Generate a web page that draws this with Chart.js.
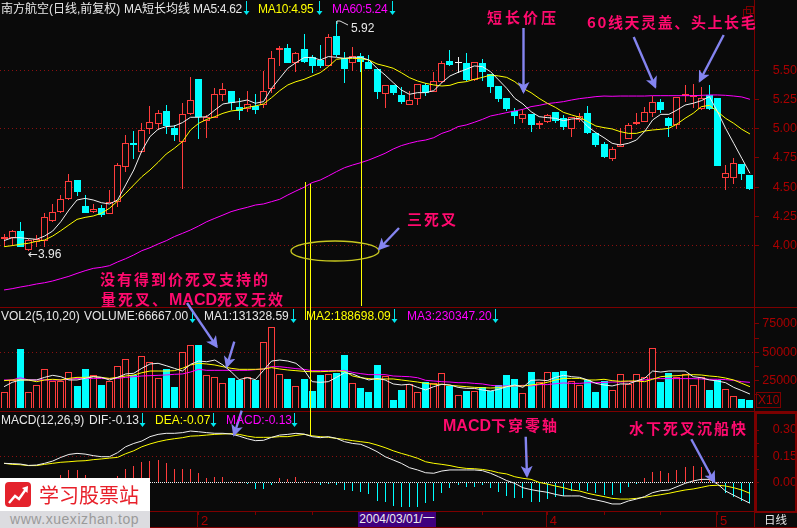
<!DOCTYPE html>
<html>
<head>
<meta charset="utf-8">
<script src="https://cdn.jsdelivr.net/npm/chart.js@4/dist/chart.umd.min.js"></script>
<style>
html, body { margin: 0; padding: 0; background: #0a0a0a; overflow: hidden; }
#stage { position: relative; width: 797px; height: 528px; background: #0a0a0a; font: 12px 'Liberation Sans', 'Noto Sans CJK SC', sans-serif; }
canvas { position: absolute; left: 0; }
svg { position: absolute; left: 0; top: 0; }
.t { position: absolute; white-space: nowrap; line-height: 16px; height: 16px; }
.w { color: #e8e8e8; } .y { color: #ffff00; } .m { color: #ff00ff; }
.tight { letter-spacing: -0.3px; }
.note { color: #ff0a6e; font: bold 15px 'Noto Sans CJK SC', sans-serif; line-height: 18px; height: 18px; letter-spacing: 2px; }
.note b { font-family: 'Liberation Sans', sans-serif; letter-spacing: 0; font-size: 16px; }
.axis { color: #a80000; }
#logo { position: absolute; left: 0; top: 478px; width: 150px; height: 50px; background: #fff; }
#logo .bar { position: absolute; left: 0; top: 33px; width: 150px; height: 17px; background: #dcdce0; color: #9a9a9a; font: 14px/17px 'Liberation Sans', sans-serif; letter-spacing: 0.55px; text-indent: 10px; }
#logo .name { position: absolute; left: 39px; top: 5px; color: #e8202a; font: 20px/24px 'Noto Sans CJK SC', sans-serif; }
#date { position: absolute; left: 358px; top: 512px; width: 78px; height: 15px; background: #3f007f; color: #eee; font: 12px/15px 'Liberation Sans', 'Noto Sans CJK SC', sans-serif; text-align: center; }
</style>
</head>
<body>
<div id="stage">
  <canvas id="priceChart" width="797" height="307" style="top:0"></canvas>
  <canvas id="volChart" width="797" height="100" style="top:308px"></canvas>
  <canvas id="macdChart" width="797" height="116" style="top:412px"></canvas>

  <svg width="797" height="528" viewBox="0 0 797 528">
    <defs>
      <marker id="head" markerWidth="5" markerHeight="5" refX="4.2" refY="2.5" orient="auto" markerUnits="strokeWidth">
        <path d="M0,0 L5,2.5 L0,5 L1.3,2.5 Z" fill="#8484f0"/>
      </marker>
      <path id="down" d="M-0.5,0 H0.5 V10 H3 L0,14 L-3,10 H-0.5 Z" fill="#00e8f0"/>
    </defs>
    <!-- panel frame -->
    <g stroke="#7c0000" stroke-width="1" fill="none" shape-rendering="crispEdges">
      <line x1="754.5" y1="0" x2="754.5" y2="528"/>
      <line x1="0" y1="307.5" x2="797" y2="307.5"/>
      <line x1="0" y1="411.5" x2="797" y2="411.5"/>
      <line x1="0" y1="511.5" x2="797" y2="511.5"/>
      <line x1="0" y1="527.5" x2="797" y2="527.5"/>
      <rect x="755.5" y="412.5" width="40" height="99" stroke-width="2"/>
      <rect x="756.5" y="392.5" width="24" height="15"/>
      <line x1="197.5" y1="512" x2="197.5" y2="528"/>
      <line x1="546.5" y1="512" x2="546.5" y2="528"/>
      <line x1="716.5" y1="512" x2="716.5" y2="528"/>
      <rect x="746.5" y="6.5" width="7" height="7"/>
      <rect x="743.5" y="9.5" width="7" height="7"/>
    </g>
    <!-- marker lines -->
    <g stroke="#ffff00" stroke-width="1" shape-rendering="crispEdges">
      <line x1="305.5" y1="182" x2="305.5" y2="320"/>
      <line x1="310.5" y1="184" x2="310.5" y2="435"/>
      <line x1="361.5" y1="60" x2="361.5" y2="306"/>
    </g>
    <ellipse cx="335" cy="251" rx="44" ry="10" fill="none" stroke="#c8c820" stroke-width="1.3"/>
    <polyline points="337,24 337,21 340,21 348,25" fill="none" stroke="#ddd" stroke-width="1"/>
    <!-- header arrows -->
    <use href="#down" x="246.5" y="1"/><use href="#down" x="319.5" y="1"/><use href="#down" x="392.5" y="1"/>
    <use href="#down" x="192.5" y="309"/><use href="#down" x="293.5" y="309"/><use href="#down" x="394.5" y="309"/><use href="#down" x="495.5" y="309"/>
    <use href="#down" x="142.5" y="413"/><use href="#down" x="213.5" y="413"/><use href="#down" x="294.5" y="413"/>
    <!-- note arrows -->
    <g stroke="#8484f0" stroke-width="2.4" fill="none" marker-end="url(#head)">
      <line x1="523.5" y1="28" x2="523.5" y2="92"/>
      <line x1="633.7" y1="37" x2="655.3" y2="87"/>
      <line x1="723.7" y1="35" x2="699.7" y2="81"/>
      <line x1="187" y1="303" x2="216.7" y2="346.7"/>
      <line x1="234.3" y1="341.7" x2="226.7" y2="366.7"/>
      <line x1="241.7" y1="410.7" x2="234" y2="435"/>
      <line x1="525.7" y1="436.7" x2="527" y2="476"/>
      <line x1="691.3" y1="439.3" x2="714.3" y2="481.7"/>
      <line x1="399" y1="228" x2="379" y2="249"/>
    </g>
  </svg>

  <!-- price header -->
  <span class="t w" style="left:1px;top:1px">南方航空(日线,前复权)</span>
  <span class="t w" style="left:124px;top:1px">MA短长均线</span>
  <span class="t w tight" style="left:193px;top:1px">MA5:4.62</span>
  <span class="t y tight" style="left:258px;top:1px">MA10:4.95</span>
  <span class="t m tight" style="left:332px;top:1px">MA60:5.24</span>
  <span class="t w" style="left:28px;top:246px"><span style="font-family:'DejaVu Sans'">←</span>3.96</span>
  <span class="t w" style="left:351px;top:20px">5.92</span>

  <!-- volume header -->
  <span class="t w" style="left:1px;top:308px">VOL2(5,10,20)</span>
  <span class="t w" style="left:84px;top:308px">VOLUME:66667.00</span>
  <span class="t w" style="left:204px;top:308px">MA1:131328.59</span>
  <span class="t y" style="left:306px;top:308px">MA2:188698.09</span>
  <span class="t m" style="left:407px;top:308px">MA3:230347.20</span>
  <span class="t axis" style="left:758px;top:392px">X10</span>

  <!-- macd header -->
  <span class="t w" style="left:1px;top:412px">MACD(12,26,9)</span>
  <span class="t w" style="left:89px;top:412px">DIF:-0.13</span>
  <span class="t y" style="left:155px;top:412px">DEA:-0.07</span>
  <span class="t m" style="left:226px;top:412px">MACD:-0.13</span>

  <!-- notes -->
  <span class="t note" style="left:100px;top:270px">没有得到价死叉支持的</span>
  <span class="t note" style="left:101px;top:290px">量死叉、<b>MACD</b>死叉无效</span>
  <span class="t note" style="left:407px;top:210px">三死叉</span>
  <span class="t note" style="left:487px;top:8px;letter-spacing:3px">短长价压</span>
  <span class="t note" style="left:587px;top:13px;letter-spacing:1.6px">60线天灵盖、头上长毛</span>
  <span class="t note" style="left:443px;top:416px"><b>MACD</b>下穿零轴</span>
  <span class="t note" style="left:629px;top:419px">水下死叉沉船快</span>

  <div id="date">2004/03/01/一</div>
  <span class="t w" style="left:764px;top:512px;font-size:11.5px">日线</span>

  <div id="logo">
    <svg width="28" height="27" viewBox="0 0 28 27" style="left:5px;top:4px">
      <rect x="0" y="0" width="26" height="25" rx="4" fill="#e4222c"/>
      <polyline points="4,21 10,14 14,17 21,7" fill="none" stroke="#fff" stroke-width="2.4"/>
      <path d="M17,6 L23,4 L22.5,11 Z" fill="#fff"/>
    </svg>
    <div class="name">学习股票站</div>
    <div class="bar">www.xuexizhan.top</div>
  </div>
</div>

<script>
// --- Daily bars ---
const opens = [
  4.053,4.067,4.124,3.964,4.033,4.041,4.213,4.287,4.396,4.561,
  4.338,4.287,4.318,4.273,4.376,4.670,4.875,4.804,5.001,5.044,
  5.153,5.004,4.890,5.130,5.427,5.064,5.095,5.293,5.324,5.184,
  5.173,5.196,5.201,5.344,5.678,5.693,5.567,5.681,5.615,5.587,
  5.541,5.795,5.604,5.567,5.624,5.573,5.513,5.298,5.375,5.290,
  5.207,5.258,5.375,5.315,5.404,5.581,5.567,5.564,5.418,5.564,
  5.467,5.367,5.261,5.155,5.087,5.124,5.036,5.055,5.141,5.093,
  5.001,5.075,5.133,4.961,4.870,4.744,4.841,4.910,5.041,5.061,
  5.138,5.230,5.093,5.033,5.284,5.275,5.173,5.290,5.261,4.581,
  4.581,4.698,4.604
];
const highs = [
  4.099,4.133,4.201,4.059,4.090,4.276,4.355,4.433,4.613,4.561,
  4.433,4.355,4.347,4.476,4.704,4.947,4.981,5.047,5.195,5.161,
  5.204,5.033,5.224,5.441,5.427,5.118,5.347,5.390,5.324,5.261,
  5.324,5.298,5.495,5.670,5.710,5.727,5.661,5.813,5.633,5.715,
  5.813,5.920,5.661,5.704,5.653,5.633,5.513,5.373,5.375,5.355,
  5.327,5.381,5.390,5.490,5.581,5.675,5.618,5.653,5.570,5.595,
  5.467,5.367,5.261,5.175,5.161,5.124,5.070,5.124,5.147,5.118,
  5.104,5.133,5.195,4.967,4.890,4.847,5.004,5.047,5.133,5.184,
  5.281,5.255,5.104,5.275,5.375,5.384,5.355,5.375,5.261,4.690,
  4.747,4.698,4.604
];
const lows = [
  3.996,3.996,3.990,3.956,3.990,3.990,4.204,4.276,4.390,4.424,
  4.278,4.276,4.244,4.273,4.333,4.630,4.741,4.795,4.955,4.990,
  4.955,4.895,4.487,5.118,4.915,4.921,5.090,5.241,5.161,5.076,
  5.147,5.127,5.181,5.304,5.538,5.567,5.490,5.567,5.481,5.518,
  5.538,5.613,5.395,5.498,5.490,5.513,5.255,5.181,5.290,5.210,
  5.204,5.204,5.281,5.315,5.390,5.538,5.475,5.410,5.413,5.410,
  5.304,5.233,5.155,5.041,5.047,4.975,5.001,5.047,5.053,4.990,
  4.933,5.061,4.953,4.844,4.753,4.727,4.841,4.910,5.033,5.055,
  5.098,5.133,4.933,4.998,5.227,5.175,5.161,5.161,4.681,4.476,
  4.527,4.561,4.476
];
const closes = [
  4.076,4.124,3.990,4.047,4.053,4.241,4.284,4.396,4.550,4.458,
  4.278,4.310,4.264,4.376,4.687,4.875,4.861,4.987,5.055,5.133,
  5.024,4.950,5.124,5.244,5.101,5.098,5.295,5.338,5.218,5.153,
  5.210,5.164,5.321,5.604,5.693,5.567,5.647,5.575,5.538,5.538,
  5.784,5.633,5.513,5.627,5.573,5.513,5.318,5.373,5.307,5.233,
  5.244,5.381,5.304,5.407,5.561,5.547,5.567,5.418,5.570,5.490,
  5.358,5.255,5.170,5.110,5.124,5.033,5.050,5.118,5.070,5.015,
  5.098,5.113,4.967,4.861,4.758,4.827,4.870,5.030,5.061,5.141,
  5.227,5.161,5.027,5.270,5.298,5.290,5.267,5.167,4.681,4.618,
  4.710,4.613,4.484
];
const ma5 = [
  4.042,4.067,4.067,4.059,4.053,4.081,4.124,4.204,4.304,4.390,
  4.404,4.390,4.367,4.356,4.390,4.519,4.647,4.813,4.933,4.996,
  5.019,5.024,5.053,5.099,5.099,5.104,5.161,5.213,5.224,5.233,
  5.247,5.219,5.233,5.347,5.433,5.519,5.567,5.610,5.613,5.590,
  5.619,5.613,5.604,5.613,5.613,5.590,5.519,5.461,5.396,5.333,
  5.296,5.310,5.310,5.327,5.396,5.453,5.484,5.510,5.539,5.533,
  5.490,5.419,5.347,5.261,5.213,5.147,5.104,5.096,5.090,5.070,
  5.084,5.090,5.019,4.967,4.924,4.876,4.861,4.876,4.904,4.976,
  5.076,5.124,5.124,5.161,5.204,5.219,5.241,5.276,5.147,5.004,
  4.876,4.747,4.619
];
const ma10 = [
  3.990,3.999,4.010,4.019,4.036,4.047,4.081,4.127,4.176,4.224,
  4.241,4.253,4.276,4.319,4.381,4.447,4.519,4.590,4.647,4.713,
  4.784,4.833,4.890,4.990,5.047,5.081,5.104,5.133,5.153,5.161,
  5.184,5.196,5.213,5.267,5.327,5.376,5.404,5.424,5.453,5.481,
  5.533,5.596,5.604,5.604,5.601,5.590,5.556,5.539,5.519,5.481,
  5.439,5.410,5.390,5.376,5.367,5.373,5.396,5.404,5.424,5.441,
  5.461,5.453,5.441,5.404,5.347,5.310,5.261,5.219,5.184,5.141,
  5.119,5.099,5.061,5.024,5.010,4.999,4.976,4.961,4.961,4.981,
  4.990,4.996,5.004,5.041,5.090,5.133,5.190,5.201,5.147,5.090,
  5.047,4.996,4.956
];
const ma60 = [
  3.619,3.630,3.644,3.656,3.670,3.681,3.696,3.716,3.736,3.761,
  3.784,3.804,3.813,3.827,3.859,3.887,3.919,3.956,3.981,4.013,
  4.041,4.076,4.104,4.133,4.167,4.204,4.233,4.261,4.290,4.310,
  4.327,4.347,4.356,4.376,4.396,4.433,4.467,4.499,4.539,4.561,
  4.596,4.633,4.667,4.690,4.710,4.733,4.761,4.790,4.827,4.856,
  4.876,4.893,4.904,4.924,4.961,4.984,5.019,5.033,5.056,5.081,
  5.110,5.124,5.139,5.153,5.167,5.190,5.201,5.216,5.224,5.233,
  5.247,5.259,5.267,5.276,5.281,5.279,5.281,5.281,5.281,5.281,
  5.284,5.284,5.284,5.284,5.284,5.284,5.287,5.290,5.290,5.287,
  5.281,5.273,5.253
];

// --- Volume panel (axis is shown X10) ---
const volumes = [
  14700,25300,52900,14700,20900,35000,24700,24700,32600,20300,
  35300,29700,21200,24700,37900,43800,30000,46700,41700,27000,
  35300,19700,50300,56200,56400,29700,27900,23200,27300,25900,
  27900,25900,59100,72000,30900,26500,20300,26500,16200,30000,
  30900,32000,47600,22600,18200,15300,38800,29100,7900,16800,
  22100,15000,23800,22600,31500,20300,12300,16200,15900,19100,
  16200,21200,30000,26500,13800,32600,23500,32600,32600,33500,
  24700,20900,25600,15000,24700,16500,30600,22100,30600,27900,
  53500,23800,31800,28500,30600,20900,27900,16800,25600,17300,
  11200,8800,7900
];
const volMa1 = [
  19700,23500,25600,25600,25600,27900,29700,28500,25600,25600,
  27000,28500,27900,25600,27900,30900,31500,35900,39700,40300,
  38200,35900,33500,39400,42300,41700,43200,38800,32900,25900,
  27600,25900,34000,42300,43200,42300,40300,34400,24100,23500,
  24100,27900,32000,30900,27900,25600,27000,25600,22100,21200,
  21800,19100,16800,19700,21800,21200,19100,18200,18200,16800,
  15900,17300,19700,21200,19100,25300,25600,25000,27900,29700,
  28500,27900,25600,22600,21200,20300,22100,22100,24700,27000,
  33500,32600,33500,33500,33500,28500,27600,25600,24700,23200,
  19100,16200,13200
];
const volMa2 = [
  25000,25600,25600,25600,24100,25600,26200,25600,27000,27900,
  27900,28500,27900,27000,27900,29100,30000,32000,33500,33500,
  33500,33800,35900,38800,40300,39700,38800,37300,35900,35000,
  35000,35000,35300,36500,35300,34400,33800,33200,32900,32900,
  33200,33500,33200,29100,27600,26800,26200,26500,26500,25600,
  24700,23800,22600,21800,21800,20900,20300,19700,19100,18800,
  18500,18800,19700,20600,20300,21200,22100,23500,25600,27000,
  27000,27000,25600,25600,26200,25000,24400,24700,24700,24100,
  26200,28500,29100,29400,30000,30300,30000,29100,28500,27300,
  25600,22600,19700
];
const volMa3 = [
  25600,25600,27600,25600,25600,25600,25600,25600,26200,27000,
  27000,27000,27000,26800,27000,27900,28500,29100,29400,29700,
  30000,30600,30900,32600,35000,34100,34100,34100,34100,34100,
  34100,34700,35300,37300,37300,36500,35600,35000,33800,33800,
  33800,33800,34100,32300,31200,30300,30300,30300,29100,28800,
  28500,27600,25300,24700,24100,23800,23200,23200,22600,22100,
  20900,20300,20300,20300,20900,20300,21500,21500,22300,23000,
  22600,22600,23200,23200,23500,23800,23800,24100,24400,25600,
  26800,26800,26800,26800,26800,26800,26500,26200,26200,25900,
  25300,24100,23500
];

// --- MACD panel ---
const dif = [
  .109,.107,.105,.097,.099,.109,.122,.143,.160,.166,
  .162,.153,.147,.147,.170,.204,.223,.237,.262,.275,
  .281,.281,.285,.294,.290,.285,.281,.281,.277,.265,
  .250,.239,.241,.258,.271,.275,.281,.277,.262,.256,
  .262,.252,.233,.223,.218,.199,.176,.147,.128,.109,
  .084,.071,.055,.052,.065,.071,.071,.071,.071,.067,
  .052,.032,.010,-.006,-.031,-.042,-.050,-.057,-.069,-.078,
  -.078,-.078,-.092,-.101,-.111,-.124,-.124,-.107,-.096,-.082,
  -.059,-.048,-.044,-.025,-.006,.008,.017,.017,-.010,-.050,
  -.074,-.097,-.120
];
const dea = [
  .109,.103,.101,.096,.096,.103,.109,.115,.118,.122,
  .124,.130,.134,.139,.143,.164,.181,.204,.220,.233,
  .243,.250,.256,.265,.267,.271,.275,.277,.279,.275,
  .265,.258,.258,.258,.262,.262,.269,.275,.267,.262,
  .258,.252,.246,.239,.233,.227,.214,.199,.181,.166,
  .153,.138,.118,.109,.103,.096,.086,.080,.078,.074,
  .067,.055,.048,.032,.023,.017,0,-.010,-.021,-.031,
  -.044,-.050,-.063,-.073,-.082,-.092,-.096,-.096,-.092,-.086,
  -.078,-.071,-.063,-.053,-.044,-.038,-.029,-.019,-.017,-.021,
  -.031,-.044,-.063
];
const macdBars = [
  0,0,0,0,0,0,0,.042,.071,.071,
  .042,.023,.013,.010,.036,.074,.094,.115,.122,.128,
  .109,.076,.076,.076,.052,.027,.032,.029,.008,.004,
  -.011,-.040,-.040,-.015,.023,.019,.029,.008,.002,-.017,
  -.004,-.013,-.044,-.048,-.053,-.069,-.107,-.115,-.136,-.143,
  -.143,-.139,-.120,-.105,-.059,-.034,-.017,-.025,-.025,-.015,
  -.034,-.053,-.076,-.092,-.092,-.111,-.111,-.094,-.082,-.076,
  -.052,-.044,-.050,-.063,-.074,-.071,-.061,-.025,-.002,.025,
  .059,.067,.053,.071,.090,.094,.090,.071,0,-.059,
  -.082,-.107,-.117
];

// --- Axis labels ---
const priceTicks = [4.00, 4.25, 4.50, 4.75, 5.00, 5.25, 5.50];
const priceGrid = [4.00, 4.50, 5.00, 5.50];
const volTicks = [12500, 25000, 37500, 50000, 62500, 75000];
const volLabels = [25000, 50000, 75000];
const macdTicks = [0, 0.075, 0.15, 0.225, 0.30];
const macdLabels = [0, 0.15, 0.30];
const monthLabels = { 24: '2', 67: '4', 88: '5' };
const dayTicks = [6, 13, 24, 31, 38, 45, 52, 59, 67, 74, 81, 88];

const colors = {
  bg: '#0a0a0a',
  red: '#ff3c3c',
  cyan: '#00ffff',
  white: '#f0f0f0',
  yellow: '#ffff00',
  magenta: '#ff00ff',
  frame: '#7c0000',
  label: '#a80000',
  grid: '#8a1010'
};
const labels = opens.map((_, i) => i);
const isUp = i => closes[i] >= opens[i];

// Bars land on whole pixels, the original has no anti-aliasing
const snapBars = {
  id: 'snapBars',
  beforeDatasetsDraw(chart) {
    chart.getSortedVisibleDatasetMetas().forEach(meta => {
      if (meta.type !== 'bar') return;
      meta.data.forEach(el => {
        el.x = Math.floor(el.x) + 0.5;
        el.y = Math.round(el.y);
        el.base = Math.round(el.base);
        if (el.y === el.base) el.base = el.y + 1;
      });
    });
  }
};

function barSet(data, width, bg, border, order) {
  return {
    type: 'bar', data, grouped: false, maxBarThickness: width, barPercentage: 1, categoryPercentage: 1, order,
    backgroundColor: bg, borderColor: border, borderWidth: width > 1 ? 1 : 0,
    borderSkipped: false, inflateAmount: 0
  };
}
function lineSet(data, color) {
  return { type: 'line', data, borderColor: color, borderWidth: 1, pointRadius: 0, tension: 0, order: 0 };
}
function yAxis(min, max, tickList, showLabel, gridColor, format, dash) {
  return {
    position: 'right', min, max,
    afterBuildTicks: scale => { scale.ticks = tickList.map(v => ({ value: v })); },
    afterFit: scale => { scale.width = 43; scale.paddingTop = 0; scale.paddingBottom = 0; },
    border: { display: false, dash: dash || [1, 3] },
    grid: { color: gridColor, lineWidth: 1, tickColor: colors.frame, tickLength: 5, tickBorderDash: [] },
    ticks: {
      autoSkip: false, crossAlign: 'far', padding: 2, color: colors.label,
      font: { family: "'Liberation Sans'", size: 12.5 },
      callback: v => showLabel(v) ? format(v) : ''
    }
  };
}
const hiddenX = { display: false, offset: true };
function makeChart(id, datasets, xScale, yScale) {
  return new Chart(document.getElementById(id), {
    type: 'bar',
    data: { labels, datasets },
    options: {
      responsive: false, animation: false, events: [],
      layout: { padding: 0 },
      plugins: { legend: { display: false }, tooltip: { enabled: false } },
      scales: { x: xScale, y: yScale }
    },
    plugins: [snapBars]
  });
}

Chart.defaults.font.family = "'Liberation Sans'";

// Price panel
const candleColor = i => closes[i] === opens[i] ? colors.white : isUp(i) ? colors.red : colors.cyan;
makeChart('priceChart', [
  lineSet(ma5, colors.white),
  lineSet(ma10, colors.yellow),
  lineSet(ma60, colors.magenta),
  barSet(labels.map(i => closes[i] === opens[i] ? [closes[i], closes[i] + 0.002] : [opens[i], closes[i]]), 7,
    labels.map(i => closes[i] === opens[i] ? colors.white : isUp(i) ? colors.bg : colors.cyan),
    labels.map(candleColor), 1),
  barSet(labels.map(i => [lows[i], highs[i]]), 1, labels.map(candleColor), 'transparent', 2)
], hiddenX, yAxis(3.473, 6.104, priceTicks, v => priceTicks.includes(v),
  c => priceGrid.includes(c.tick.value) ? colors.grid : 'transparent', v => v.toFixed(2)));

// Volume panel
makeChart('volChart', [
  lineSet(volMa1, colors.white),
  lineSet(volMa2, colors.yellow),
  lineSet(volMa3, colors.magenta),
  barSet(volumes, 7,
    labels.map(i => isUp(i) ? colors.bg : colors.cyan),
    labels.map(i => isUp(i) ? colors.red : colors.cyan), 1)
], hiddenX, yAxis(882, 89082, volTicks, v => volLabels.includes(v),
  c => c.tick.value === 50000 ? colors.grid : 'transparent', v => String(v)));

// MACD panel with the date axis below it
makeChart('macdChart', [
  lineSet(dif, colors.white),
  lineSet(dea, colors.yellow),
  barSet(macdBars, 1, macdBars.map(v => v >= 0 ? colors.red : colors.cyan), 'transparent', 1)
], {
  offset: true,
  afterBuildTicks: scale => { scale.ticks = dayTicks.map(v => ({ value: v })); },
  afterFit: scale => { scale.height = 17; },
  border: { display: false },
  grid: { drawOnChartArea: false, offset: false, tickColor: colors.frame, tickLength: 4 },
  ticks: {
    autoSkip: false, maxRotation: 0, padding: -1, labelOffset: 6, color: colors.label,
    font: { family: "'Liberation Sans'", size: 13 },
    callback: v => monthLabels[v] || ''
  }
}, yAxis(-0.1644, 0.4033, macdTicks, v => macdLabels.includes(v),
  c => c.tick.value === 0 ? '#f0f0f0' : c.tick.value === 0.15 ? colors.grid : 'transparent', v => v.toFixed(2),
  c => c.tick && c.tick.value === 0 ? [1, 1] : [1, 3]));
</script>
</body>
</html>
